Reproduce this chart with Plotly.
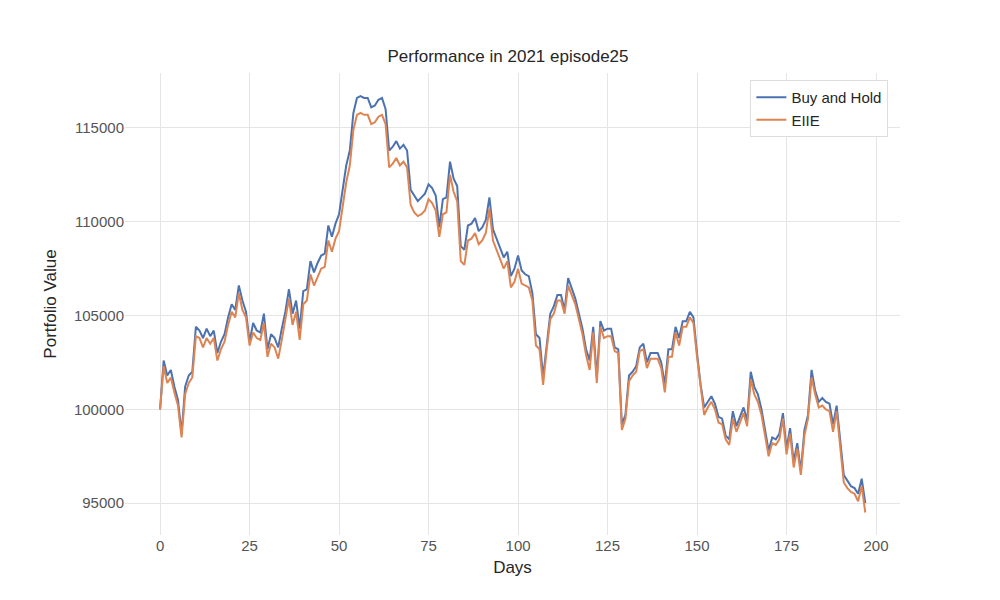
import plotly.graph_objects as go

days = list(range(198))
buy_and_hold = [100000,102600,101800,102100,101200,100500,98700,101200,101800,102000,104400,104200,103800,104300,103900,104200,103000,103600,104000,104900,105600,105300,106600,105800,105200,103600,104600,104200,104100,105100,103200,104000,103800,103300,104300,105200,106400,105100,105800,104300,106300,106400,107900,107300,107800,108200,108300,109800,109200,109900,110400,111700,113000,113800,115800,116600,116700,116600,116600,116100,116200,116500,116600,116000,113800,114000,114300,113900,114100,113800,111700,111400,111100,111300,111500,112000,111800,111400,109700,111200,111300,113200,112300,111900,108700,108500,109800,109900,110200,109500,109700,110100,111300,109600,109100,108600,108100,108400,107100,107500,108200,107400,107200,107100,106200,104000,103800,101700,103500,105100,105500,106100,106100,105300,107000,106400,105900,105100,104300,103200,102600,104400,101700,104700,104200,104300,104300,103300,103200,99200,99700,101800,102000,102300,103300,103500,102500,103000,103000,103000,102500,101300,103200,103200,104400,103800,104700,104700,105200,104900,103000,101300,100100,100400,100700,100300,99600,99500,98600,98400,99900,99100,99600,100100,99400,102000,101200,100800,100000,98800,97800,98500,98400,98700,99800,97900,99000,97200,98200,96700,98900,99700,102100,101000,100400,100600,100400,100300,99200,100200,98300,96500,96200,95900,95800,95500,96300,95000]
eiie = [100000,102300,101400,101700,100900,100200,98500,100800,101400,101700,103900,103800,103300,103800,103500,103800,102600,103200,103600,104500,105200,104900,106200,105300,104900,103400,104100,103800,103700,104600,102800,103500,103300,102700,103700,104700,105900,104500,105200,103700,105600,105800,107200,106600,107100,107500,107600,109000,108400,109100,109500,110700,112100,113000,114900,115700,115800,115700,115700,115200,115300,115600,115700,115200,112900,113100,113400,113000,113200,112900,110900,110500,110300,110400,110600,111200,111000,110600,109200,110400,110500,112500,111600,111100,107900,107700,109000,109100,109400,108800,109000,109400,110700,109000,108500,108000,107500,107900,106500,106800,107500,106700,106600,106500,105800,103400,103200,101300,103200,104800,105100,105800,105800,105100,106600,106100,105600,104800,104000,102900,102100,104100,101400,104400,103800,103900,103900,103100,103000,98900,99500,101500,101800,102000,103100,103200,102200,102700,102700,102700,102200,100900,102800,102800,104100,103400,104400,104400,104900,104600,102800,101100,99700,100100,100400,100000,99300,99200,98400,98100,99500,98800,99300,99800,99100,101600,100800,100400,99700,98500,97500,98200,98100,98400,99500,97600,98700,96900,97900,96500,98600,99500,101700,100800,100100,100200,100000,99900,98800,99900,98000,96100,95800,95600,95500,95100,95900,94500]

font = "Liberation Sans, Arial, sans-serif"
fig = go.Figure()
fig.add_trace(go.Scatter(x=days, y=buy_and_hold, mode="lines", name="Buy and Hold",
                         line=dict(color="#4c72b0", width=2)))
fig.add_trace(go.Scatter(x=days, y=eiie, mode="lines", name="EIIE",
                         line=dict(color="#dd8452", width=2)))
fig.update_layout(
    width=1000, height=600, paper_bgcolor="white", plot_bgcolor="white",
    margin=dict(l=117, r=108, t=65, b=73),
    font=dict(family=font, size=15, color="#262626"),
    title=dict(text="Performance in 2021 episode25", x=0.5, xanchor="center", y=0.92, yanchor="middle",
               font=dict(size=17, color="#262626")),
    showlegend=True,
    legend=dict(x=0.985, y=0.985, xanchor="right", yanchor="top", bgcolor="white",
                bordercolor="#dddddd", borderwidth=1, font=dict(size=15, color="#262626")),
    xaxis=dict(title=dict(text="Days", font=dict(size=17), standoff=8), range=[-9.8, 206.7],
               tickvals=[0, 25, 50, 75, 100, 125, 150, 175, 200], showgrid=True,
               gridcolor="#e5e5e5", zeroline=False, showline=False, ticks="",
               tickfont=dict(color="#555555", size=15)),
    yaxis=dict(title=dict(text="Portfolio Value", font=dict(size=17), standoff=12), range=[93300, 117930],
               tickvals=[95000, 100000, 105000, 110000, 115000], tickformat="d", showgrid=True,
               gridcolor="#e5e5e5", zeroline=False, showline=False, ticks="",
               tickfont=dict(color="#555555", size=15)),
)
fig.write_html("out.html")
